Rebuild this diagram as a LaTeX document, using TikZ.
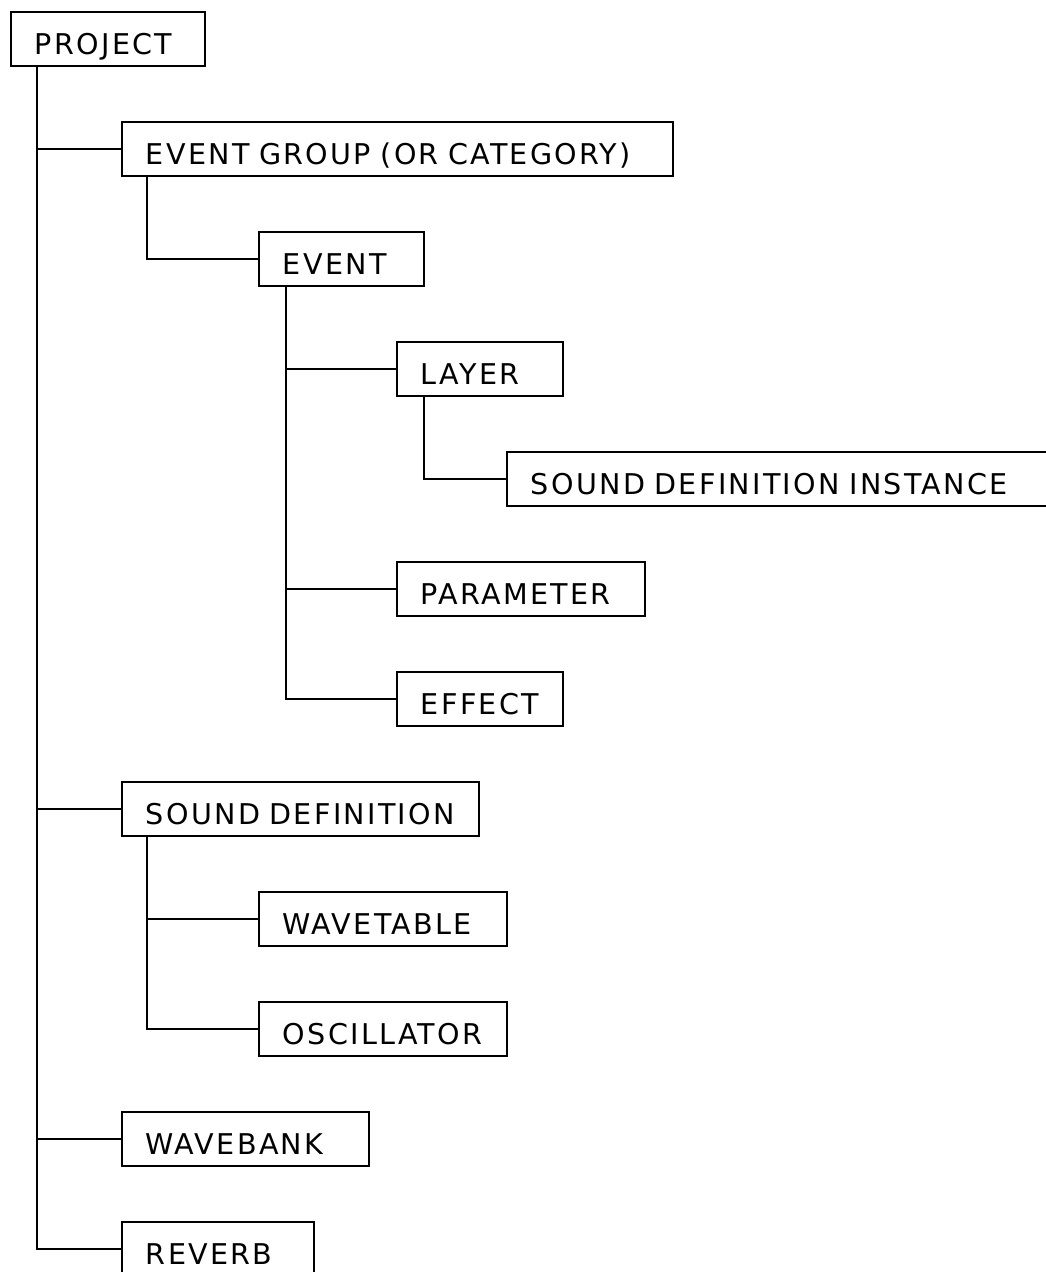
\documentclass[tikz,border=0pt]{standalone}
\usepackage{fontspec}
\setmainfont{DejaVu Sans}[LetterSpace=8]
\begin{document}
\begin{tikzpicture}[x=1pt,y=-1pt]
	\useasboundingbox (0,0) rectangle (1046,1272);
	          \begin{scope}[every node/.style={draw,line width=1.9pt,anchor=west,minimum height=54pt,inner xsep=24pt,text height=30pt,text depth=0pt,align=left,font=\fontsize{28.6}{30}\selectfont}]
	            \node[text width=146pt] (project) at (10,39) {PROJECT};
	            \node[text width=503pt] (evgroup) at (121,149) {EVENT GROUP (OR CATEGORY)};
	            \node[text width=117pt] (event) at (258,259) {EVENT};
	            \node[text width=118pt] (layer) at (396,369) {LAYER};
	            \node[text width=506pt] (sdinst) at (506,479) {SOUND DEFINITION INSTANCE};
	            \node[text width=200pt] (param) at (396,589) {PARAMETER};
	            \node[text width=118pt] (effect) at (396,699) {EFFECT};
	            \node[text width=309pt] (sounddef) at (121,809) {SOUND DEFINITION};
	            \node[text width=200pt] (wavetable) at (258,919) {WAVETABLE};
	            \node[text width=200pt] (osc) at (258,1029) {OSCILLATOR};
	            \node[text width=199pt] (wavebank) at (121,1139) {WAVEBANK};
	            \node[text width=144pt] (reverb) at (121,1249) {REVERB};
	          \end{scope}
	          \begin{scope}[every edge/.style={draw=black,line width=1.9pt,to path={|- (\tikztotarget)}}]
	            \path ([xshift=27pt]project.south west) edge (evgroup.west);
	            \path ([xshift=27pt]project.south west) edge (sounddef.west);
	            \path ([xshift=27pt]project.south west) edge (wavebank.west);
	            \path ([xshift=27pt]project.south west) edge (reverb.west);
	            \path ([xshift=26pt]evgroup.south west) edge (event.west);
	            \path ([xshift=28pt]event.south west) edge (layer.west);
	            \path ([xshift=28pt]event.south west) edge (param.west);
	            \path ([xshift=28pt]event.south west) edge (effect.west);
	            \path ([xshift=28pt]layer.south west) edge (sdinst.west);
	            \path ([xshift=26pt]sounddef.south west) edge (wavetable.west);
	            \path ([xshift=26pt]sounddef.south west) edge (osc.west);
	          \end{scope}
	        \end{tikzpicture}
\end{document}
